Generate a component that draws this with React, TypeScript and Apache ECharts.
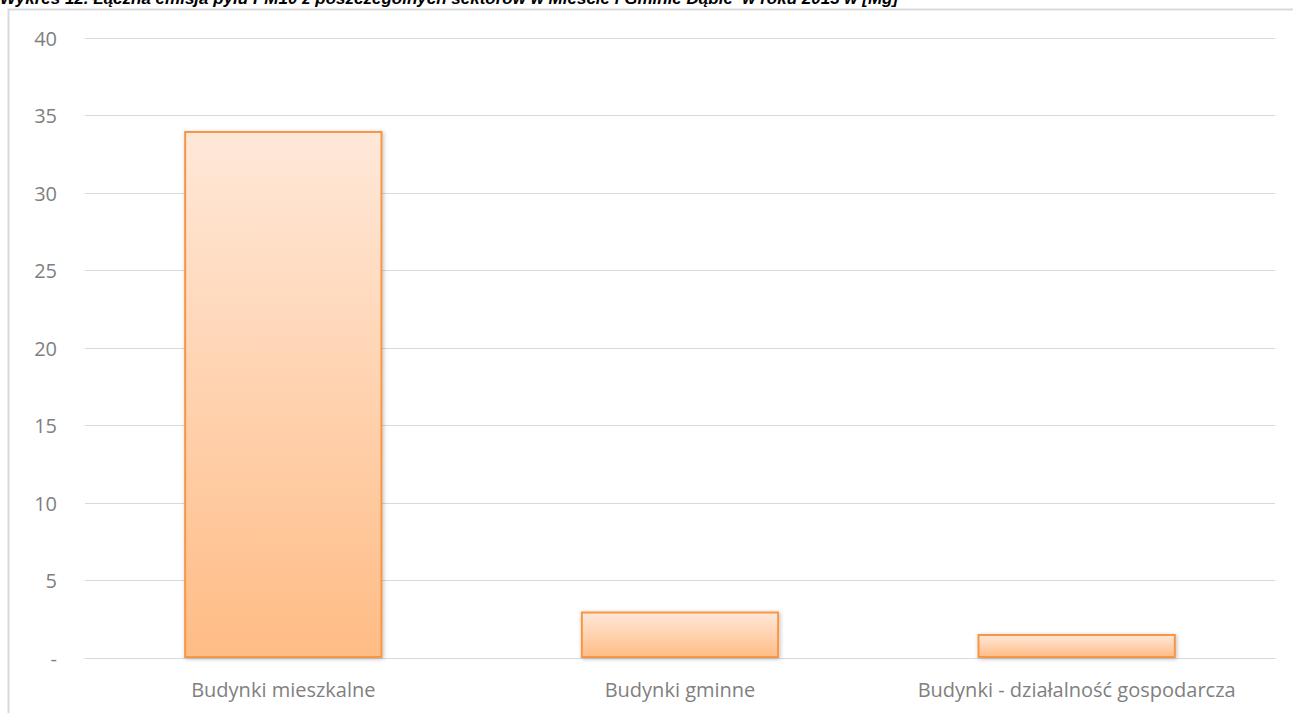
import React, { useEffect, useRef } from "react";
import * as echarts from "echarts";

const titleText =
  "Wykres 12. Łączna emisja pyłu PM10 z poszczególnych sektorów w Mieście i Gminie Dąbie  w roku 2013 w [Mg]";
const categories = ["Budynki mieszkalne", "Budynki gminne", "Budynki - działalność gospodarcza"];
const emissions = [34.0, 3.0, 1.55];
const yMin = 0;
const yMax = 40;
const yInterval = 5;

export default function App() {
  const ref = useRef<HTMLDivElement>(null);
  useEffect(() => {
    if (!ref.current) return;
    const chart = echarts.init(ref.current, undefined, { renderer: "svg" });
    const font = "'Open Sans', 'Noto Sans', sans-serif";
    chart.setOption({
      animation: false,
      backgroundColor: "#ffffff",
      graphic: [
        {
          type: "rect",
          shape: { x: 8.5, y: 9.5, width: 1300, height: 720 },
          style: { fill: "none", stroke: "#d9d9d9", lineWidth: 2 },
          z: -1,
        },
        {
          type: "text",
          x: 0,
          y: 7,
          style: {
            text: titleText,
            font: "italic bold 17px 'Liberation Sans', sans-serif",
            fill: "#000000",
            textVerticalAlign: "bottom",
          },
        },
      ],
      grid: { left: 85, right: 18, top: 38, bottom: 55, containLabel: false },
      xAxis: {
        type: "category",
        data: categories,
        axisLine: { show: true, lineStyle: { color: "#d9d9d9" } },
        axisTick: { show: false },
        axisLabel: {
          color: "#7f7f7f",
          fontSize: 20,
          fontFamily: font,
          margin: 21,
          interval: 0,
          hideOverlap: false,
        },
      },
      yAxis: {
        type: "value",
        min: yMin,
        max: yMax,
        interval: yInterval,
        axisLine: { show: false },
        axisTick: { show: false },
        splitLine: { lineStyle: { color: "#d9d9d9", width: 1 } },
        axisLabel: {
          color: "#7f7f7f",
          fontSize: 20,
          fontFamily: font,
          margin: 28,
          formatter: (v: number) => (v === 0 ? "-" : String(v)),
        },
      },
      series: [
        {
          type: "bar",
          data: emissions,
          barWidth: "50%",
          itemStyle: {
            color: new echarts.graphic.LinearGradient(0, 0, 0, 1, [
              { offset: 0, color: "#ffe8d9" },
              { offset: 1, color: "#ffbc85" },
            ]),
            borderColor: "#f79646",
            borderWidth: 2,
            shadowColor: "rgba(0,0,0,0.25)",
            shadowBlur: 4,
            shadowOffsetX: 1,
            shadowOffsetY: 1,
          },
        },
      ],
    });
    return () => chart.dispose();
  }, []);
  return (
    <div
      ref={ref}
      style={{ position: "fixed", left: 0, top: 0, width: 1293, height: 713 }}
    />
  );
}
